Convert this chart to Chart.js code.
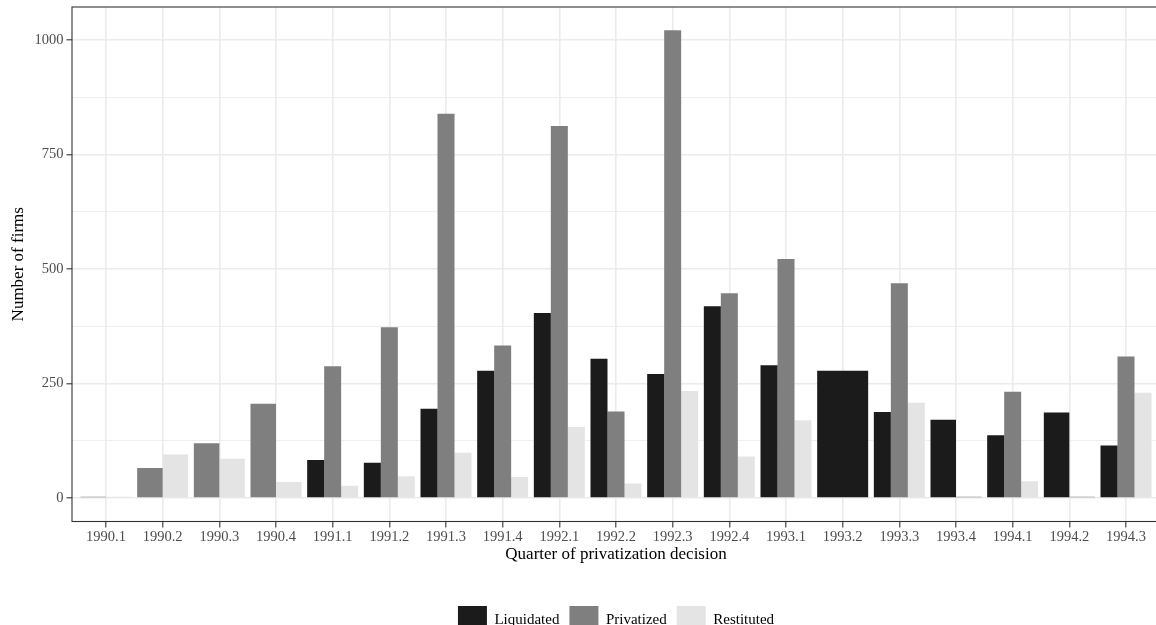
<!DOCTYPE html>
<html>
<head>
<meta charset="utf-8">
<script src="https://cdn.jsdelivr.net/npm/chart.js@4.4.1/dist/chart.umd.min.js"></script>
<style>
  html, body { margin: 0; padding: 0; background: #fff; overflow: hidden; }
</style>
</head>
<body>
<canvas id="firstChart" width="1166" height="645"></canvas>
<script>
const quarters = ['1990.1','1990.2','1990.3','1990.4','1991.1','1991.2','1991.3','1991.4',
  '1992.1','1992.2','1992.3','1992.4','1993.1','1993.2','1993.3','1993.4','1994.1','1994.2','1994.3'];

// null = no bar for that group in that quarter (ggplot dodge then widens the others)
const liquidated = [null, null, null, null, 83, 77, 195, 278, 404, 304, 271, 419, 290, 278, 188, 171, 137, 187, 115];
const privatized = [3, 66, 120, 206, 288, 373, 839, 333, 812, 189, 1021, 447, 522, null, 469, 3, 232, 3, 309];
const restituted = [3, 95, 86, 35, 27, 48, 99, 46, 155, 32, 234, 91, 170, null, 208, null, 37, null, 230];

const yTicks = [0, 125, 250, 375, 500, 625, 750, 875, 1000];

function toPoints(arr){
    return arr.map(function(v, i){ return {x: i, y: v}; });
}

// ggplot-like panel border drawn over the bars
const panelBorder = {
    id: 'panelBorder',
    afterDatasetsDraw(chart){
        const a = chart.chartArea;
        const ctx = chart.ctx;
        ctx.save();
        ctx.strokeStyle = '#333333';
        ctx.lineWidth = 1.1;
        ctx.strokeRect(a.left, a.top, a.right - a.left, a.bottom - a.top);
        ctx.restore();
    }
};

Chart.defaults.font.family = "'Liberation Serif', 'Times New Roman', serif";

const ctx = document.getElementById('firstChart');
const chart = new Chart(ctx, {
    type: 'bar',
    data: {
        datasets: [
            { label: 'Liquidated', data: toPoints(liquidated), backgroundColor: '#1b1b1b' },
            { label: 'Privatized', data: toPoints(privatized), backgroundColor: '#7f7f7f' },
            { label: 'Restituted', data: toPoints(restituted), backgroundColor: '#e4e4e4' }
        ]
    },
    options: {
        responsive: false,
        devicePixelRatio: 1,
        animation: false,
        layout: { padding: { top: 7, right: 6, bottom: 0, left: 0 } },
        datasets: {
            bar: { categoryPercentage: 0.9, barPercentage: 1.0, skipNull: true, borderWidth: 0 }
        },
        plugins: {
            tooltip: { enabled: false },
            legend: {
                position: 'bottom',
                fullSize: false,
                labels: {
                    boxWidth: 29,
                    boxHeight: 29,
                    padding: 10,
                    color: '#000',
                    font: { size: 15 }
                }
            }
        },
        scales: {
            x: {
                type: 'linear',
                offset: false,
                min: -0.6,
                max: 18.6,
                afterBuildTicks: function(s){ s.ticks = quarters.map(function(q, i){ return {value: i}; }); },
                afterFit: function(s){ s.height = 74.5; s.paddingLeft = 0; s.paddingRight = 0; },
                ticks: {
                    autoSkip: false,
                    maxRotation: 0,
                    padding: 1,
                    color: '#4d4d4d',
                    font: { size: 14.5 },
                    callback: function(v){ return quarters[v]; }
                },
                grid: { offset: false, color: '#ebebeb', lineWidth: 1.6, tickColor: '#333333', tickLength: 6, tickWidth: 1.1 },
                border: { display: false },
                title: {
                    display: true,
                    text: 'Quarter of privatization decision',
                    color: '#000',
                    font: { size: 17 },
                    padding: { top: 0, bottom: 31 }
                }
            },
            y: {
                min: -51,
                max: 1072,
                afterBuildTicks: function(s){ s.ticks = yTicks.map(function(v){ return {value: v}; }); },
                afterFit: function(s){ s.width = 72; s.paddingTop = 0; s.paddingBottom = 0; },
                ticks: {
                    padding: 3,
                    color: '#4d4d4d',
                    font: { size: 14.5 },
                    callback: function(v){ return v % 250 === 0 ? v : ''; }
                },
                grid: {
                    color: '#ebebeb',
                    lineWidth: function(c){ return c.tick && c.tick.value % 250 === 0 ? 1.6 : 0.8; },
                    tickColor: function(c){ return c.tick && c.tick.value % 250 === 0 ? '#333333' : 'rgba(0,0,0,0)'; },
                    tickLength: 5.5,
                    tickWidth: 1.1
                },
                border: { display: false },
                title: {
                    display: true,
                    text: 'Number of firms',
                    color: '#000',
                    font: { size: 17 },
                    padding: { top: 8, bottom: 0 }
                }
            }
        }
    },
    plugins: [panelBorder]
});
</script>
</body>
</html>
